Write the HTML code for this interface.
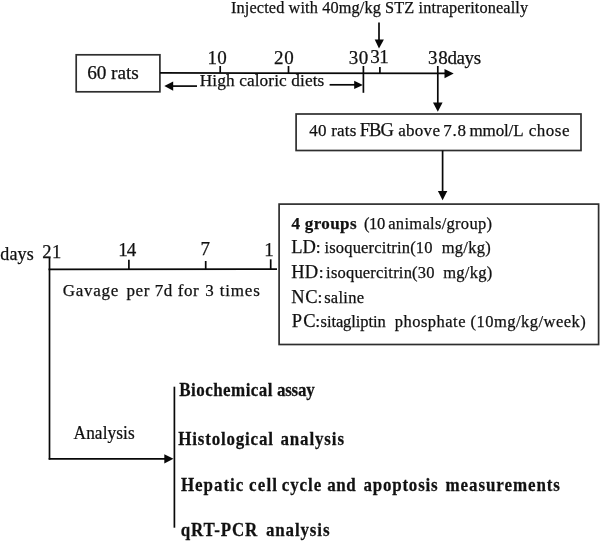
<!DOCTYPE html>
<html><head><meta charset="utf-8"><style>
html,body{margin:0;padding:0;background:#fff;width:600px;height:544px;overflow:hidden}
svg{display:block;will-change:transform}
text{font-family:"Liberation Serif",serif;fill:#111;white-space:pre;stroke:#111;stroke-width:0.25px}
</style></head><body>
<svg width="600" height="544" viewBox="0 0 600 544">
<g stroke="#080808" stroke-width="1.7" fill="none" stroke-linecap="butt">
 <rect stroke="#2e2e2e" x="76.2" y="54.8" width="83.7" height="37"/>
 <line x1="160" y1="72.9" x2="446" y2="73.3"/>
 <line x1="220.2" y1="66" x2="220.2" y2="73"/>
 <line x1="288.5" y1="66" x2="288.5" y2="73"/>
 <line x1="363.4" y1="66" x2="363.4" y2="92.8"/>
 <line x1="379.9" y1="67" x2="379.9" y2="73"/>
 <line x1="437.8" y1="66" x2="437.8" y2="103"/>
 <line x1="172" y1="86.1" x2="197" y2="86.1"/>
 <line x1="329.6" y1="84.8" x2="355" y2="84.8"/>
 <line x1="379" y1="22.4" x2="379" y2="40.5"/>
 <rect stroke="#2e2e2e" x="296.1" y="114" width="284.9" height="36.5"/>
 <line x1="442.6" y1="150.5" x2="442.6" y2="192"/>
 <rect stroke="#2e2e2e" x="279.1" y="204.1" width="319.5" height="140.4"/>
 <line x1="48.5" y1="269.4" x2="277" y2="269.1"/>
 <line x1="49.5" y1="257.6" x2="49.5" y2="459.6"/>
 <line x1="128.9" y1="259.7" x2="128.9" y2="269"/>
 <line x1="205.7" y1="261" x2="205.7" y2="269"/>
 <line x1="270.7" y1="259.3" x2="270.7" y2="269"/>
 <line x1="48.7" y1="458.8" x2="165" y2="458.8"/>
 <line x1="174.4" y1="386.7" x2="174.4" y2="527.7"/>
</g>
<g fill="#080808">
 <polygon points="164.3,86.1 173.2,81.6 173.2,90.7"/>
 <polygon points="362.9,84.9 354.2,80.8 354.2,89.1"/>
 <polygon points="379,48.5 374.7,39.6 383.9,39.6"/>
 <polygon points="453.7,73.6 444.5,69.1 444.5,78.2"/>
 <polygon points="437.8,111.7 433,102.4 442.6,102.4"/>
 <polygon points="442.6,200.2 437.9,191 447.3,191"/>
 <polygon points="173.5,458.8 164.3,454.3 164.3,463.5"/>
</g>

<g transform="translate(231.000,12.5) scale(1,1)"><text x="0" y="0" font-size="16.3" font-weight="400" xml:space="preserve" textLength="297.094" lengthAdjust="spacing">Injected with 40mg/kg STZ intraperitoneally</text></g>
<g transform="translate(207.400,64.3) scale(1,1)"><text x="0" y="0" font-size="19" font-weight="400" xml:space="preserve" textLength="19.400" lengthAdjust="spacing">10</text></g>
<g transform="translate(274.000,64) scale(1,1)"><text x="0" y="0" font-size="19" font-weight="400" xml:space="preserve" textLength="19.750" lengthAdjust="spacing">20</text></g>
<g transform="translate(348.650,64.3) scale(1,1)"><text x="0" y="0" font-size="19" font-weight="400" xml:space="preserve" textLength="19.600" lengthAdjust="spacing">30</text></g>
<g transform="translate(370.300,63) scale(1,1)"><text x="0" y="0" font-size="19" font-weight="400" xml:space="preserve" textLength="18.500" lengthAdjust="spacing">31</text></g>
<g transform="translate(428.000,63.5) scale(1,1)"><text x="0" y="0" font-size="19" font-weight="400" xml:space="preserve" textLength="19.750" lengthAdjust="spacing">38</text></g>
<g transform="translate(447.550,63.5) scale(1,1)"><text x="0" y="0" font-size="19" font-weight="400" xml:space="preserve" textLength="33.528" lengthAdjust="spacing">days</text></g>
<g transform="translate(87.300,78.9) scale(1,1)"><text x="0" y="0" font-size="19.3" font-weight="400" xml:space="preserve" textLength="51.403" lengthAdjust="spacing">60 rats</text></g>
<g transform="translate(199.750,86.3) scale(1,1)"><text x="0" y="0" font-size="17.3" font-weight="400" xml:space="preserve" textLength="124.609" lengthAdjust="spacing">High caloric diets</text></g>
<g transform="translate(309.300,136.2) scale(1,1)"><text x="0" y="0" font-size="17" font-weight="400" xml:space="preserve" textLength="46.997" lengthAdjust="spacing">40 rats</text></g>
<g transform="translate(359.750,136.1) scale(1,1)"><text x="0" y="0" font-size="18.5" font-weight="400" xml:space="preserve" textLength="34.000" lengthAdjust="spacing">FBG</text></g>
<g transform="translate(398.250,136.2) scale(1,1)"><text x="0" y="0" font-size="17" font-weight="400" xml:space="preserve" textLength="41.694" lengthAdjust="spacing">above</text></g>
<g transform="translate(443.250,136.2) scale(1,1)"><text x="0" y="0" font-size="17" font-weight="400" xml:space="preserve" textLength="22.750" lengthAdjust="spacing">7.8</text></g>
<g transform="translate(469.500,136.2) scale(1,1)"><text x="0" y="0" font-size="17" font-weight="400" xml:space="preserve" textLength="54.031" lengthAdjust="spacing">mmol/L</text></g>
<g transform="translate(528.750,136.2) scale(1,1)"><text x="0" y="0" font-size="17" font-weight="400" xml:space="preserve" textLength="40.719" lengthAdjust="spacing">chose</text></g>
<g transform="translate(291.400,229) scale(1,1)"><text x="0" y="0" font-size="17" font-weight="700" xml:space="preserve" textLength="65.116" lengthAdjust="spacing">4 groups</text></g>
<g transform="translate(363.900,229) scale(1,1)"><text x="0" y="0" font-size="16.5" font-weight="400" xml:space="preserve" textLength="21.250" lengthAdjust="spacing">(10</text></g>
<g transform="translate(388.250,229) scale(1,1)"><text x="0" y="0" font-size="16.5" font-weight="400" xml:space="preserve" textLength="103.706" lengthAdjust="spacing">animals/group)</text></g>
<g transform="translate(291.200,253.4) scale(1,1)"><text x="0" y="0" font-size="18.5" font-weight="400" xml:space="preserve" textLength="24.572" lengthAdjust="spacing">LD</text></g>
<g transform="translate(315.800,253.4) scale(1,1)"><text x="0" y="0" font-size="17.5" font-weight="400" xml:space="preserve">:</text></g>
<g transform="translate(324.450,253.4) scale(1,1)"><text x="0" y="0" font-size="16.5" font-weight="400" xml:space="preserve" textLength="108.041" lengthAdjust="spacing">isoquercitrin(10</text></g>
<g transform="translate(441.750,253.4) scale(1,1)"><text x="0" y="0" font-size="16.5" font-weight="400" xml:space="preserve" textLength="48.922" lengthAdjust="spacing">mg/kg)</text></g>
<g transform="translate(291.150,278.4) scale(1,1)"><text x="0" y="0" font-size="18.5" font-weight="400" xml:space="preserve" textLength="26.934" lengthAdjust="spacing">HD</text></g>
<g transform="translate(318.650,278.4) scale(1,1)"><text x="0" y="0" font-size="17.5" font-weight="400" xml:space="preserve">:</text></g>
<g transform="translate(326.100,278.4) scale(1,1)"><text x="0" y="0" font-size="16.5" font-weight="400" xml:space="preserve" textLength="108.391" lengthAdjust="spacing">isoquercitrin(30</text></g>
<g transform="translate(443.150,278.4) scale(1,1)"><text x="0" y="0" font-size="16.5" font-weight="400" xml:space="preserve" textLength="49.022" lengthAdjust="spacing">mg/kg)</text></g>
<g transform="translate(291.150,302.7) scale(1,1)"><text x="0" y="0" font-size="18.5" font-weight="400" xml:space="preserve" textLength="26.453" lengthAdjust="spacing">NC</text></g>
<g transform="translate(317.450,302.7) scale(1,1)"><text x="0" y="0" font-size="17.5" font-weight="400" xml:space="preserve">:</text></g>
<g transform="translate(324.200,302.7) scale(1,1)"><text x="0" y="0" font-size="16.5" font-weight="400" xml:space="preserve" textLength="39.800" lengthAdjust="spacing">saline</text></g>
<g transform="translate(291.750,326.7) scale(1,1)"><text x="0" y="0" font-size="18.5" font-weight="400" xml:space="preserve" textLength="23.791" lengthAdjust="spacing">PC</text></g>
<g transform="translate(315.300,326.7) scale(1,1)"><text x="0" y="0" font-size="17.5" font-weight="400" xml:space="preserve">:</text></g>
<g transform="translate(320.550,326.7) scale(1,1)"><text x="0" y="0" font-size="16.5" font-weight="400" xml:space="preserve" textLength="65.150" lengthAdjust="spacing">sitagliptin</text></g>
<g transform="translate(394.800,326.7) scale(1,1)"><text x="0" y="0" font-size="16.5" font-weight="400" xml:space="preserve" textLength="190.894" lengthAdjust="spacing">phosphate (10mg/kg/week)</text></g>
<g transform="translate(0.250,260) scale(1,1)"><text x="0" y="0" font-size="18" font-weight="400" xml:space="preserve" textLength="33.500" lengthAdjust="spacing">days</text></g>
<g transform="translate(42.300,257.6) scale(1,1)"><text x="0" y="0" font-size="18.5" font-weight="400" xml:space="preserve" textLength="18.850" lengthAdjust="spacing">21</text></g>
<g transform="translate(118.250,255.7) scale(1,1)"><text x="0" y="0" font-size="19" font-weight="400" xml:space="preserve" textLength="18.000" lengthAdjust="spacing">14</text></g>
<g transform="translate(200.400,254.5) scale(1,1)"><text x="0" y="0" font-size="19" font-weight="400" xml:space="preserve">7</text></g>
<g transform="translate(264.275,255.7) scale(1,1)"><text x="0" y="0" font-size="19" font-weight="400" xml:space="preserve">1</text></g>
<g transform="translate(62.750,296.3) scale(1,1)"><text x="0" y="0" font-size="17" font-weight="400" xml:space="preserve" textLength="55.422" lengthAdjust="spacing">Gavage</text></g>
<g transform="translate(126.450,296.3) scale(1,1)"><text x="0" y="0" font-size="17" font-weight="400" xml:space="preserve" textLength="72.331" lengthAdjust="spacing">per 7d for</text></g>
<g transform="translate(205.250,296.3) scale(1,1)"><text x="0" y="0" font-size="17" font-weight="400" xml:space="preserve" textLength="54.594" lengthAdjust="spacing">3 times</text></g>
<g transform="translate(73.550,438.5) scale(0.91,1)"><text x="0" y="0" font-size="19" font-weight="400" xml:space="preserve" textLength="67.237" lengthAdjust="spacing">Analysis</text></g>
<g transform="translate(179.250,395.5) scale(0.87,1)"><text x="0" y="0" font-size="19.5" font-weight="700" xml:space="preserve" textLength="107.220" lengthAdjust="spacing">Biochemical</text></g>
<g transform="translate(277.000,395.5) scale(0.87,1)"><text x="0" y="0" font-size="19.5" font-weight="700" xml:space="preserve" textLength="43.262" lengthAdjust="spacing">assay</text></g>
<g transform="translate(178.300,444.8) scale(0.87,1)"><text x="0" y="0" font-size="19.5" font-weight="700" xml:space="preserve" textLength="108.813" lengthAdjust="spacing">Histological</text></g>
<g transform="translate(280.500,444.8) scale(0.87,1)"><text x="0" y="0" font-size="19.5" font-weight="700" xml:space="preserve" textLength="72.980" lengthAdjust="spacing">analysis</text></g>
<g transform="translate(180.950,490.7) scale(0.87,1)"><text x="0" y="0" font-size="19.5" font-weight="700" xml:space="preserve" textLength="71.617" lengthAdjust="spacing">Hepatic</text></g>
<g transform="translate(249.000,490.7) scale(0.87,1)"><text x="0" y="0" font-size="19.5" font-weight="700" xml:space="preserve" textLength="32.164" lengthAdjust="spacing">cell</text></g>
<g transform="translate(281.750,490.7) scale(0.87,1)"><text x="0" y="0" font-size="19.5" font-weight="700" xml:space="preserve" textLength="45.421" lengthAdjust="spacing">cycle</text></g>
<g transform="translate(327.250,490.7) scale(0.87,1)"><text x="0" y="0" font-size="19.5" font-weight="700" xml:space="preserve" textLength="32.747" lengthAdjust="spacing">and</text></g>
<g transform="translate(363.500,490.7) scale(0.87,1)"><text x="0" y="0" font-size="19.5" font-weight="700" xml:space="preserve" textLength="85.171" lengthAdjust="spacing">apoptosis</text></g>
<g transform="translate(445.500,490.7) scale(0.87,1)"><text x="0" y="0" font-size="19.5" font-weight="700" xml:space="preserve" textLength="131.579" lengthAdjust="spacing">measurements</text></g>
<g transform="translate(180.700,536.4) scale(0.87,1)"><text x="0" y="0" font-size="19.5" font-weight="700" xml:space="preserve" textLength="88.080" lengthAdjust="spacing">qRT-PCR</text></g>
<g transform="translate(266.000,536.4) scale(0.87,1)"><text x="0" y="0" font-size="19.5" font-weight="700" xml:space="preserve" textLength="72.980" lengthAdjust="spacing">analysis</text></g>
</svg>
</body></html>
